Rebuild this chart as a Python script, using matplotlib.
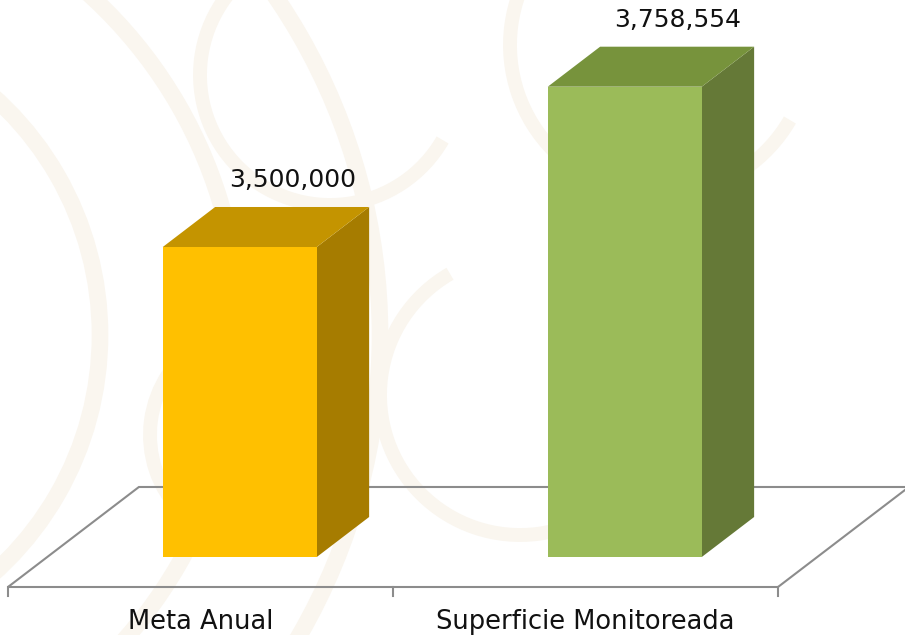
import matplotlib
matplotlib.use("Agg")
import matplotlib.pyplot as plt
from matplotlib.patches import Polygon, Arc

# Data
categories = ["Meta Anual", "Superficie Monitoreada"]
values = [3500000, 3758554]
value_labels = ["3,500,000", "3,758,554"]
front_colors = ["#FFC000", "#9BBB59"]
top_colors = ["#C49400", "#77933C"]
side_colors = ["#A67C00", "#657937"]

# 3D look (oblique projection)
base = 3000000          # value where the floor sits
bar_w = 0.4             # bar width in category units
depth_x = 0.34          # full floor depth, x shift (category units)
depth_y = 161300        # full floor depth, y shift (value units)
d0, d1 = 0.3, 0.7       # bar position inside the floor depth

px_x = 385              # pixels per category
px_y = 620 / 1e6        # pixels per value unit

fig = plt.figure(figsize=(9.05, 6.35), dpi=100)
ax = fig.add_axes([0, 0, 1, 1])
ax.set_xlim(-8 / px_x, (905 - 8) / px_x)
ax.set_ylim(base - 48 / px_y, base + 587 / px_y)
ax.axis("off")

# faint watermark swirls in the background (drawn behind everything)
wm = "#FAF6EF"
for r in [3.2, 4.6, 6.0]:
    ax.add_patch(Arc((-2.2, 3.0), 2 * r, 2 * r, theta1=-60, theta2=60,
                     lw=12, color=wm, transform=fig.dpi_scale_trans, zorder=0))
for cx, cy, r in [(3.3, 5.6, 1.3), (6.6, 5.9, 1.5), (2.6, 2.0, 1.1), (5.2, 2.4, 1.4)]:
    ax.add_patch(Arc((cx, cy), 2 * r, 2 * r, theta1=120, theta2=330,
                     lw=10, color=wm, transform=fig.dpi_scale_trans, zorder=0))


def proj(x, d, v):
    return (x + d * depth_x, v + d * depth_y)


# floor
n = len(categories)
floor = [proj(0, 0, base), proj(n, 0, base), proj(n, 1, base), proj(0, 1, base)]
ax.add_patch(Polygon(floor, closed=True, fill=False, edgecolor="#8C8C8C", lw=1.5, zorder=1))
for i in range(n + 1):
    ax.plot([i, i], [base, base - 9 / px_y], color="#8C8C8C", lw=1.5, zorder=1)

# bars
for i, v in enumerate(values):
    x0 = i + 0.5 - bar_w / 2
    x1 = i + 0.5 + bar_w / 2
    front = [proj(x0, d0, base), proj(x1, d0, base), proj(x1, d0, v), proj(x0, d0, v)]
    side = [proj(x1, d0, base), proj(x1, d1, base), proj(x1, d1, v), proj(x1, d0, v)]
    top = [proj(x0, d0, v), proj(x1, d0, v), proj(x1, d1, v), proj(x0, d1, v)]
    ax.add_patch(Polygon(side, closed=True, facecolor=side_colors[i], edgecolor="none", zorder=2))
    ax.add_patch(Polygon(top, closed=True, facecolor=top_colors[i], edgecolor="none", zorder=2))
    ax.add_patch(Polygon(front, closed=True, facecolor=front_colors[i], edgecolor="none", zorder=3))

    lx, ly = proj(i + 0.5, d1, v)
    ax.annotate(value_labels[i], (lx, ly), xytext=(0, 20), textcoords="offset pixels",
                ha="center", va="baseline", fontsize=18, color="#111111", zorder=4)

    ax.annotate(categories[i], (i + 0.5, base), xytext=(0, -42), textcoords="offset pixels",
                ha="center", va="baseline", fontsize=18.5, color="#111111", zorder=4)

fig.savefig("out.png", dpi=100)
